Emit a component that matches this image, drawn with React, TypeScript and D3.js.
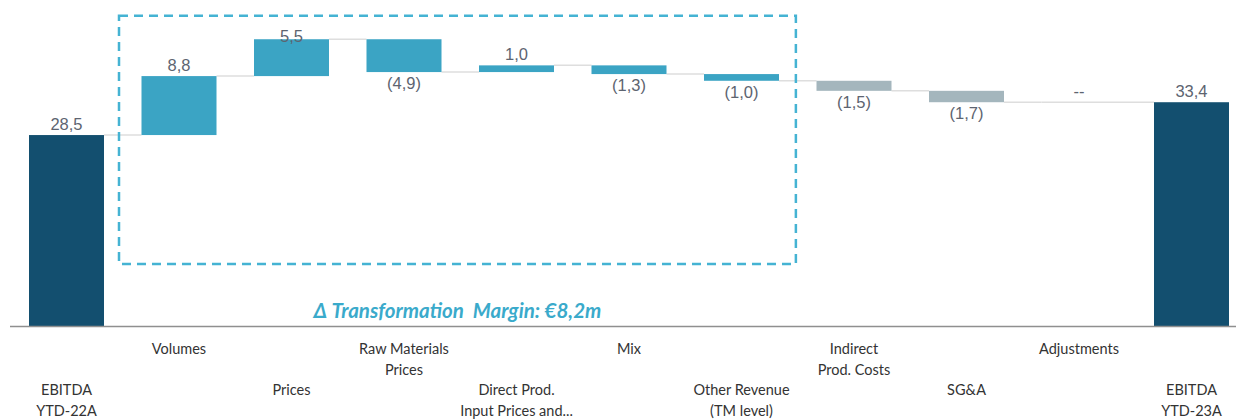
import React from "react";
import * as d3 from "d3";

const categories: string[][] = [
  ["EBITDA", "YTD-22A"],
  ["Volumes"],
  ["Prices"],
  ["Raw Materials", "Prices"],
  ["Direct Prod.", "Input Prices and..."],
  ["Mix"],
  ["Other Revenue", "(TM level)"],
  ["Indirect", "Prod. Costs"],
  ["SG&A"],
  ["Adjustments"],
  ["EBITDA", "YTD-23A"],
];
const values: number[] = [28.5, 8.8, 5.5, -4.9, 1.0, -1.3, -1.0, -1.5, -1.7, 0, 33.4];
const kinds: string[] = ["total", "tm", "tm", "tm", "tm", "tm", "tm", "other", "other", "other", "total"];
const annotation = "\u0394 Transformation  Margin: \u20ac8,2m";

const W = 1236;
const H = 419;
const colors: Record<string, string> = { total: "#134f6f", tm: "#3ba4c4", other: "#a4b6bd" };

function fmt(v: number): string {
  if (v === 0) return "--";
  const s = Math.abs(v).toFixed(1).replace(".", ",");
  return v < 0 ? `(${s})` : s;
}

export default function App() {
  const x = d3
    .scaleBand<number>()
    .domain(d3.range(categories.length))
    .range([10.25, 1247.75])
    .paddingInner(1 / 3)
    .paddingOuter(1 / 6);
  const y = d3.scaleLinear().domain([0, 326 / 6.7]).range([326, 0]);
  const bw = x.bandwidth();
  const step = x.step();

  let cum = 0;
  const segs = values.map((v, i) => {
    let start: number, end: number;
    if (kinds[i] === "total") {
      start = 0;
      end = v;
      cum = v;
    } else {
      start = cum;
      end = cum + v;
      cum = end;
    }
    return { i, v, start, end, level: end };
  });

  const boxLeft = (x(1) as number) - step * 0.2;
  const boxRight = (x(6) as number) + bw + step * 0.15;
  const boxTop = y(46.3);
  const boxBottom = y(9.25);

  return (
    <svg width={W} height={H} style={{ position: "absolute", left: 0, top: 0, background: "#fff" }}>
      {/* connectors */}
      {segs.slice(0, -1).map((s) => (
        <line
          key={"c" + s.i}
          x1={s.v === 0 ? (x(s.i) as number) : (x(s.i) as number) + bw}
          x2={x(s.i + 1) as number}
          y1={y(s.level)}
          y2={y(s.level)}
          stroke="#dedede"
          strokeWidth={1.5}
        />
      ))}
      {/* bars */}
      {segs.map((s) =>
        s.v === 0 ? null : (
          <rect
            key={"b" + s.i}
            x={x(s.i)}
            width={bw}
            y={y(Math.max(s.start, s.end))}
            height={Math.abs(y(s.start) - y(s.end))}
            fill={colors[kinds[s.i]]}
          />
        )
      )}
      {/* axis */}
      <line x1={10} x2={W} y1={y(0) + 0.5} y2={y(0) + 0.5} stroke="#8f8f8f" strokeWidth={1.5} />
      {/* value labels */}
      {segs.map((s) => {
        const top = y(Math.max(s.start, s.end));
        const bottom = y(Math.min(s.start, s.end));
        const ty = s.v >= 0 ? Math.max(top - 5, 42) : bottom + 17;
        return (
          <text
            key={"v" + s.i}
            x={(x(s.i) as number) + bw / 2}
            y={ty}
            textAnchor="middle"
            fontFamily="'Liberation Sans', Arial, sans-serif"
            fontSize={16.5}
            fill="#5d6470"
          >
            {fmt(s.v)}
          </text>
        );
      })}
      {/* dashed box */}
      <rect
        x={boxLeft}
        y={boxTop}
        width={boxRight - boxLeft}
        height={boxBottom - boxTop}
        fill="none"
        stroke="#45b3d3"
        strokeWidth={2.5}
        strokeDasharray="9 6"
      />
      <text
        x={(boxLeft + boxRight) / 2}
        y={318}
        textAnchor="middle"
        fontFamily="Lato, 'Open Sans', sans-serif"
        fontStyle="italic"
        fontWeight="bold"
        fontSize={20.5}
        fill="#3aaacb"
        style={{ whiteSpace: "pre" }}
      >
        {annotation}
      </text>
      {/* category labels */}
      {categories.map((lines, i) => {
        const y0 = i % 2 === 1 ? 354 : 395;
        return (
          <text
            key={"l" + i}
            textAnchor="middle"
            fontFamily="Lato, 'Open Sans', sans-serif"
            fontSize={14.5}
            fill="#333"
          >
            {lines.map((ln, j) => (
              <tspan key={j} x={(x(i) as number) + bw / 2} y={y0 + j * 20.5}>
                {ln}
              </tspan>
            ))}
          </text>
        );
      })}
    </svg>
  );
}
